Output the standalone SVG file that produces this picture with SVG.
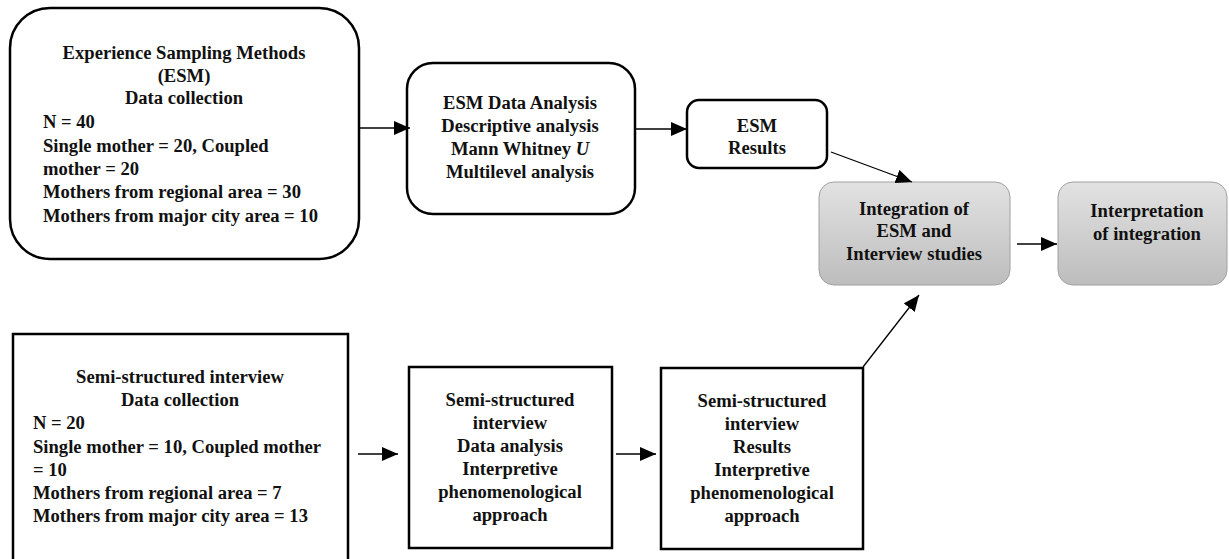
<svg xmlns="http://www.w3.org/2000/svg" width="1229" height="559" viewBox="0 0 1229 559">
<defs>
<marker id="arr" markerWidth="16" markerHeight="14" refX="16" refY="7" orient="auto" markerUnits="userSpaceOnUse">
<path d="M0,0 L16,7 L0,14 Z" fill="#000"/>
</marker>
<linearGradient id="gray" x1="0" y1="0" x2="0" y2="1">
<stop offset="0" stop-color="#e2e2e2"/>
<stop offset="1" stop-color="#bdbdbd"/>
</linearGradient>
<style>
text{font-family:"Liberation Serif","Times New Roman",serif;font-weight:bold;font-size:18.6px;fill:#111}
.c{text-anchor:middle}
.box{fill:#fff;stroke:#000;stroke-width:2.5}
.gbox{fill:url(#gray);stroke:#a0a0a0;stroke-width:1}
.conn line{stroke:#000;stroke-width:1.3;marker-end:url(#arr)}
</style>
</defs>
<rect width="1229" height="559" fill="#fff"/>

<g id="esm-collection">
<rect class="box" x="10" y="8" width="349" height="251" rx="40" ry="40"/>
<text class="c" x="184" y="59">Experience Sampling Methods</text>
<text class="c" x="184" y="82">(ESM)</text>
<text class="c" x="184" y="104">Data collection</text>
<text x="43" y="128">N = 40</text>
<text x="43" y="152">Single mother = 20, Coupled</text>
<text x="43" y="175">mother = 20</text>
<text x="43" y="198">Mothers from regional area = 30</text>
<text x="43" y="222">Mothers from major city area = 10</text>
</g>

<g id="esm-analysis">
<rect class="box" x="407" y="63" width="228" height="151" rx="26" ry="26"/>
<text class="c" x="520" y="109">ESM Data Analysis</text>
<text class="c" x="520" y="132">Descriptive analysis</text>
<text class="c" x="520" y="155">Mann Whitney <tspan font-style="italic">U</tspan></text>
<text class="c" x="520" y="178">Multilevel analysis</text>
</g>

<g id="esm-results">
<rect class="box" x="687" y="100" width="140" height="68" rx="12" ry="12"/>
<text class="c" x="757" y="132">ESM</text>
<text class="c" x="757" y="154">Results</text>
</g>

<g id="integration">
<rect class="gbox" x="819" y="182" width="191" height="103" rx="15" ry="15"/>
<text class="c" x="914" y="215">Integration of</text>
<text class="c" x="914" y="237">ESM and</text>
<text class="c" x="914" y="260">Interview studies</text>
</g>

<g id="interpretation">
<rect class="gbox" x="1058" y="182" width="169" height="103" rx="15" ry="15"/>
<text class="c" x="1147" y="217">Interpretation</text>
<text class="c" x="1147" y="240">of integration</text>
</g>

<g id="interview-collection">
<rect class="box" x="13" y="334" width="335" height="240"/>
<text class="c" x="180" y="383">Semi-structured interview</text>
<text class="c" x="180" y="406">Data collection</text>
<text x="33" y="429">N = 20</text>
<text x="33" y="453">Single mother = 10, Coupled mother</text>
<text x="33" y="476">= 10</text>
<text x="33" y="499">Mothers from regional area = 7</text>
<text x="33" y="522">Mothers from major city area = 13</text>
</g>

<g id="interview-analysis">
<rect class="box" x="409" y="367" width="203" height="181"/>
<text class="c" x="510" y="406">Semi-structured</text>
<text class="c" x="510" y="429">interview</text>
<text class="c" x="510" y="452">Data analysis</text>
<text class="c" x="510" y="475">Interpretive</text>
<text class="c" x="510" y="498">phenomenological</text>
<text class="c" x="510" y="521">approach</text>
</g>

<g id="interview-results">
<rect class="box" x="661" y="368" width="202" height="181"/>
<text class="c" x="762" y="407">Semi-structured</text>
<text class="c" x="762" y="430">interview</text>
<text class="c" x="762" y="453">Results</text>
<text class="c" x="762" y="476">Interpretive</text>
<text class="c" x="762" y="499">phenomenological</text>
<text class="c" x="762" y="522">approach</text>
</g>

<g id="connectors" class="conn">
<line x1="359" y1="128" x2="410" y2="128"/>
<line x1="635" y1="129" x2="687" y2="129"/>
<line x1="831" y1="152" x2="912" y2="182"/>
<line x1="1017" y1="244" x2="1057" y2="244"/>
<line x1="863" y1="367" x2="919" y2="295"/>
<line x1="358" y1="454" x2="398" y2="454"/>
<line x1="616" y1="454" x2="656" y2="454"/>
</g>
</svg>
